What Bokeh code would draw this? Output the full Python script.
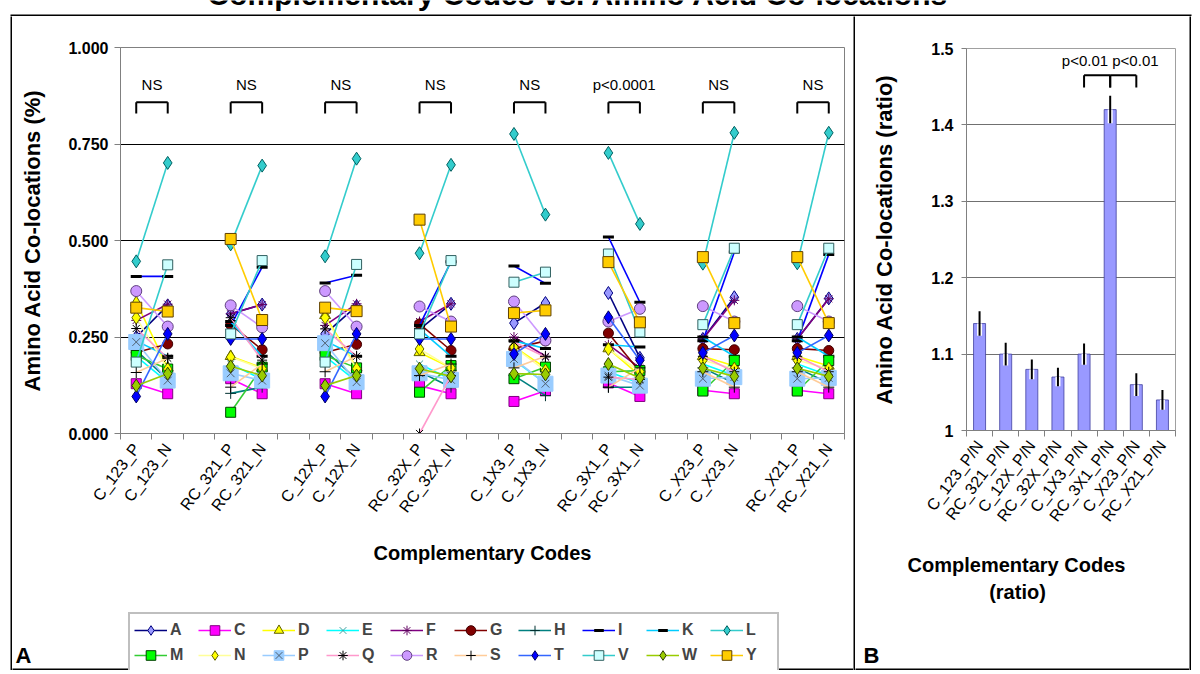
from bokeh.plotting import figure
from bokeh.models import (FixedTicker, NumeralTickFormatter, Legend, LegendItem,
                          Range1d, Spacer)
from bokeh.layouts import row, column
from bokeh.embed import file_html
from bokeh.resources import INLINE
from bokeh.core.properties import value

FONT = "Liberation Sans"

# ---------------- data ----------------
codes = ["C_123", "RC_321", "C_12X", "RC_32X", "C_1X3", "RC_3X1", "C_X23", "RC_X21"]
pair_tests = ["NS", "NS", "NS", "NS", "NS", "p<0.0001", "NS", "NS"]
amino_acids = ["A", "C", "D", "E", "F", "G", "H", "I", "K", "L",
               "M", "N", "P", "Q", "R", "S", "T", "V", "W", "Y"]

# order: C_123_P, C_123_N, RC_321_P, RC_321_N, C_12X_P, C_12X_N, RC_32X_P, RC_32X_N,
#        C_1X3_P, C_1X3_N, RC_3X1_P, RC_3X1_N, C_X23_P, C_X23_N, RC_X21_P, RC_X21_N
A = [0.250, 0.332, 0.310, 0.334, 0.258, 0.330, 0.270, 0.336, 0.286, 0.338, 0.364, 0.196, 0.245, 0.353, 0.245, 0.350]
C = [0.129, 0.103, 0.142, 0.103, 0.129, 0.103, 0.124, 0.103, 0.083, 0.111, 0.131, 0.096, 0.112, 0.103, 0.112, 0.103]
D = [0.340, 0.170, 0.200, 0.170, 0.306, 0.170, 0.210, 0.170, 0.225, 0.170, 0.220, 0.150, 0.200, 0.175, 0.200, 0.175]
E = [0.200, 0.133, 0.180, 0.140, 0.200, 0.135, 0.180, 0.140, 0.190, 0.130, 0.160, 0.130, 0.180, 0.150, 0.180, 0.150]
F = [0.293, 0.335, 0.310, 0.334, 0.280, 0.336, 0.290, 0.336, 0.250, 0.200, 0.230, 0.170, 0.245, 0.345, 0.245, 0.349]
G = [0.210, 0.232, 0.282, 0.217, 0.210, 0.231, 0.284, 0.215, 0.220, 0.240, 0.260, 0.160, 0.220, 0.217, 0.220, 0.215]
H = [0.215, 0.140, 0.104, 0.120, 0.215, 0.140, 0.160, 0.120, 0.150, 0.098, 0.120, 0.120, 0.170, 0.130, 0.170, 0.130]
I = [0.407, 0.407, 0.280, 0.431, 0.390, 0.410, 0.280, 0.445, 0.434, 0.389, 0.509, 0.340, 0.240, 0.470, 0.240, 0.464]
K = [0.240, 0.200, 0.290, 0.200, 0.240, 0.200, 0.270, 0.200, 0.240, 0.220, 0.230, 0.224, 0.250, 0.200, 0.250, 0.200]
L = [0.446, 0.701, 0.490, 0.694, 0.459, 0.712, 0.467, 0.696, 0.776, 0.567, 0.727, 0.543, 0.440, 0.779, 0.441, 0.779]
M = [0.202, 0.167, 0.055, 0.172, 0.202, 0.170, 0.107, 0.176, 0.142, 0.172, 0.160, 0.163, 0.110, 0.189, 0.110, 0.189]
N = [0.300, 0.167, 0.198, 0.168, 0.300, 0.168, 0.219, 0.170, 0.224, 0.163, 0.219, 0.160, 0.190, 0.168, 0.190, 0.168]
P = [0.237, 0.137, 0.156, 0.137, 0.234, 0.133, 0.156, 0.139, 0.193, 0.129, 0.150, 0.124, 0.142, 0.146, 0.142, 0.144]
Q = [0.272, 0.195, 0.300, 0.190, 0.271, 0.200, 0.000, 0.150, 0.237, 0.198, 0.146, 0.140, 0.200, 0.160, 0.200, 0.160]
R = [0.369, 0.277, 0.332, 0.275, 0.369, 0.277, 0.329, 0.290, 0.342, 0.241, 0.290, 0.323, 0.330, 0.290, 0.330, 0.290]
S = [0.158, 0.195, 0.120, 0.180, 0.160, 0.200, 0.150, 0.180, 0.170, 0.200, 0.120, 0.170, 0.160, 0.120, 0.160, 0.120]
T = [0.096, 0.258, 0.245, 0.245, 0.096, 0.258, 0.245, 0.245, 0.206, 0.258, 0.301, 0.190, 0.209, 0.254, 0.209, 0.254]
V = [0.185, 0.437, 0.258, 0.448, 0.185, 0.438, 0.258, 0.448, 0.392, 0.418, 0.465, 0.263, 0.282, 0.480, 0.282, 0.480]
W = [0.124, 0.155, 0.174, 0.150, 0.124, 0.150, 0.168, 0.148, 0.155, 0.153, 0.180, 0.144, 0.169, 0.148, 0.169, 0.148]
Y = [0.326, 0.316, 0.504, 0.294, 0.326, 0.317, 0.554, 0.277, 0.312, 0.319, 0.444, 0.288, 0.457, 0.286, 0.457, 0.286]

series = dict(A=A, C=C, D=D, E=E, F=F, G=G, H=H, I=I, K=K, L=L,
              M=M, N=N, P=P, Q=Q, R=R, S=S, T=T, V=V, W=W, Y=Y)

ratio_labels = [c + "_P/N" for c in codes]
ratio = [1.14, 1.10, 1.08, 1.07, 1.10, 1.42, 1.06, 1.04]
ratio_err = [0.016, 0.015, 0.013, 0.012, 0.014, 0.018, 0.015, 0.013]
ratio_test_pairs = [(4, 5), (5, 6)]
ratio_test_text = "p<0.01 p<0.01"

TITLE = "Complementary Codes vs. Amino Acid Co-locations"

# ---------------- styles ----------------
styles = {
    "A": ("#000080", "diamond", 13, "#9999FF", "#000080"),
    "C": ("#FF00FF", "square", 10, "#FF00FF", "#800080"),
    "D": ("#FFFF00", "triangle", 11, "#FFFF00", "#606000"),
    "E": ("#00FFFF", "x", 10, None, "#40A0A0"),
    "F": ("#800080", "asterisk", 10, None, "#600060"),
    "G": ("#800000", "circle", 10, "#800000", "#400000"),
    "H": ("#008080", "cross", 11, None, "#003030"),
    "I": ("#0000FF", "dash", 11, None, "#000000"),
    "K": ("#00CCFF", "dash", 11, None, "#000000"),
    "L": ("#33CCCC", "diamond", 13, "#33CCCC", "#006060"),
    "M": ("#33CC33", "square", 10, "#00FF00", "#004000"),
    "N": ("#FFFF99", "diamond", 13, "#FFFF00", "#606000"),
    "P": ("#99CCFF", "square", 15, "#99CCFF", "#99CCFF"),
    "Q": ("#FF99CC", "asterisk", 10, None, "#000000"),
    "R": ("#CC99FF", "circle", 11, "#CC99FF", "#604080"),
    "S": ("#FFCC99", "cross", 11, None, "#000000"),
    "T": ("#3366FF", "diamond", 13, "#0000FF", "#000060"),
    "V": ("#33CCCC", "square", 10, "#CCFFFF", "#306060"),
    "W": ("#99CC00", "diamond", 13, "#99CC00", "#304000"),
    "Y": ("#FFCC00", "square", 11, "#FFCC00", "#604000"),
}

# ---------------- geometry (page px; page has no margin) ----------------
LW = 2
LEFT_PAD = 10
TITLE_H = 16                # includes the 2px top frame line
WA_IN, WB_IN = 841, 334
H_IN = 654                  # includes the 2px bottom frame line
HA = 584
HA_BOT = H_IN - HA
HB = 524
HB_BOT = H_IN - HB
W_FRAME = LW + WA_IN + LW + WB_IN + LW


def unalign(f):
    try:
        f.frame_align = False
    except Exception:
        pass
    return f


def blank(w, h, color="white"):
    f = figure(width=w, height=h, x_range=Range1d(0, w), y_range=Range1d(0, h),
               x_axis_location=None, y_axis_location=None, toolbar_location=None,
               min_border=0, output_backend="svg")
    f.background_fill_color = color
    f.border_fill_color = color
    f.outline_line_color = None
    f.grid.visible = False
    return unalign(f)


def frame_line(f, x0, x1, y0, y1):
    r = f.quad(left=[x0], right=[x1], bottom=[y0], top=[y1], fill_color="black", line_color=None)
    r.level = "overlay"
    return r


def add_series(fig, xP, xN, **kw):
    items = []
    for aa in amino_acids:
        vals = series[aa]
        lc, mk, sz, fc, mlc = styles[aa]
        xs = [[xP[k], xN[k]] for k in range(len(codes))]
        ys = [[vals[2 * k], vals[2 * k + 1]] for k in range(len(codes))]
        lr = fig.multi_line(xs, ys, line_color=lc, line_width=1.6, **kw)
        fx = [x for pr in xs for x in pr]
        rends = [lr]
        if aa == "P":
            rends.append(fig.scatter(fx, vals, marker="square", size=sz, fill_color=fc,
                                     line_color=mlc, **kw))
            rends.append(fig.scatter(fx, vals, marker="x", size=11, line_color="#506070",
                                     line_width=1, **kw))
        else:
            lw = 3 if mk == "dash" else 1
            rends.append(fig.scatter(fx, vals, marker=mk, size=sz, fill_color=fc,
                                     line_color=mlc, line_width=lw, **kw))
        items.append(LegendItem(label=aa, renderers=rends))
    return items


# ---------------- panel A chart ----------------
nslots = 3 * len(codes) - 1
xP = [3 * k + 0.5 for k in range(len(codes))]
xN = [3 * k + 1.5 for k in range(len(codes))]

A_L, A_T = 108, 31
A_FW, A_FH = 724, 386
pA = figure(width=WA_IN, height=HA, x_range=Range1d(0, nslots), y_range=Range1d(0, 1),
            output_backend="svg", toolbar_location=None,
            min_border_left=A_L, min_border_right=WA_IN - A_L - A_FW,
            min_border_top=A_T, min_border_bottom=HA - A_T - A_FH)
unalign(pA)
pA.background_fill_color = "white"
pA.border_fill_color = "white"
pA.outline_line_color = "#808080"
pA.xgrid.visible = False
pA.ygrid.ticker = FixedTicker(ticks=[0.25, 0.5, 0.75])
pA.ygrid.grid_line_color = "black"

tick_pos, tick_lab = [], []
for k, c in enumerate(codes):
    tick_pos += [xP[k], xN[k]]
    tick_lab += [c + "_P", c + "_N"]

xa = pA.xaxis[0]
xa.ticker = FixedTicker(ticks=tick_pos, minor_ticks=list(range(nslots + 1)))
xa.major_label_overrides = {t: l for t, l in zip(tick_pos, tick_lab)}
xa.major_label_orientation = 0.93
xa.major_label_text_font = FONT
xa.major_label_text_font_size = "16px"
xa.major_label_text_color = "black"
xa.major_label_standoff = 6
xa.major_tick_out = 0
xa.major_tick_in = 0
xa.minor_tick_out = 6
xa.minor_tick_in = 0
xa.minor_tick_line_color = "#808080"
xa.axis_line_color = "#808080"
xa.axis_label = "Complementary Codes"
xa.axis_label_text_font = FONT
xa.axis_label_text_font_style = "bold"
xa.axis_label_text_font_size = "20px"
xa.axis_label_text_color = "black"
xa.axis_label_standoff = 18

ya = pA.yaxis[0]
ya.ticker = FixedTicker(ticks=[0, 0.25, 0.5, 0.75, 1.0])
ya.formatter = NumeralTickFormatter(format="0.000")
ya.major_label_text_font = FONT
ya.major_label_text_font_style = "bold"
ya.major_label_text_font_size = "16px"
ya.major_label_text_color = "black"
ya.major_label_standoff = 6
ya.major_tick_out = 6
ya.major_tick_in = 0
ya.minor_tick_out = 0
ya.minor_tick_in = 0
ya.major_tick_line_color = "#808080"
ya.axis_line_color = "#808080"
ya.axis_label = "Amino Acid Co-locations (%)"
ya.axis_label_text_font = FONT
ya.axis_label_text_font_style = "bold"
ya.axis_label_text_font_size = "22px"
ya.axis_label_text_color = "black"
ya.axis_label_standoff = 20

add_series(pA, xP, xN)

br_top, br_bot, br_text = 0.858, 0.829, 0.905
nc = len(codes)
pA.segment(x0=xP, y0=[br_top] * nc, x1=xN, y1=[br_top] * nc, line_color="black", line_width=2)
pA.segment(x0=xP, y0=[br_top] * nc, x1=xP, y1=[br_bot] * nc, line_color="black", line_width=2)
pA.segment(x0=xN, y0=[br_top] * nc, x1=xN, y1=[br_bot] * nc, line_color="black", line_width=2)
pA.text(x=[(a + b) / 2 for a, b in zip(xP, xN)], y=[br_text] * nc, text=pair_tests,
        text_font=value(FONT), text_font_size="15px", text_align="center", text_baseline="middle",
        text_color="black")

# ---------------- panel A legend strip ----------------
pAl = blank(WA_IN, HA_BOT)
pAl.extra_x_ranges = {"off": Range1d(100, 101)}
pAl.extra_y_ranges = {"off": Range1d(100, 101)}
leg_items = add_series(pAl, xP, xN, x_range_name="off", y_range_name="off")
legend = Legend(items=leg_items, orientation="horizontal", nrows=2, location=(116, -3),
                label_text_font=FONT, label_text_font_style="bold", label_text_font_size="16px",
                glyph_width=33, glyph_height=24, label_height=24, label_width=27,
                label_standoff=3, spacing=1, padding=4,
                border_line_color="#808080", border_line_width=2,
                background_fill_color="white", background_fill_alpha=1, margin=0)
pAl.add_layout(legend, "center")
pAl.text(x=[3], y=[15], text=["A"], text_font=value(FONT), text_font_style="bold",
         text_font_size="22px", text_baseline="middle", text_color="black")
frame_line(pAl, 0, WA_IN, 0, LW)

# ---------------- panel B chart ----------------
nb = len(ratio)
B_L, B_T = 111, 32
B_FW, B_FH = 209, 382
pB = figure(width=WB_IN, height=HB, x_range=Range1d(0, nb), y_range=Range1d(1, 1.5),
            output_backend="svg", toolbar_location=None,
            min_border_left=B_L, min_border_right=WB_IN - B_L - B_FW,
            min_border_top=B_T, min_border_bottom=HB - B_T - B_FH)
unalign(pB)
pB.background_fill_color = "white"
pB.border_fill_color = "white"
pB.outline_line_color = "#A0A0A0"
pB.xgrid.visible = False
pB.ygrid.ticker = FixedTicker(ticks=[1.1, 1.2, 1.3, 1.4])
pB.ygrid.grid_line_color = "#707070"

xb = [i + 0.5 for i in range(nb)]
lo = [r - e for r, e in zip(ratio, ratio_err)]
hi = [r + e for r, e in zip(ratio, ratio_err)]
pB.vbar(x=xb, top=ratio, bottom=1, width=0.46, fill_color="#9999FF", line_color="#4040A0", line_width=0.8)
pB.segment(x0=xb, y0=lo, x1=xb, y1=ratio, line_color="white", line_width=5)
pB.segment(x0=xb, y0=lo, x1=xb, y1=hi, line_color="black", line_width=2)

bt, bb = 1.465, 1.449
for a, b in ratio_test_pairs:
    pB.segment(x0=[xb[a], xb[a], xb[b]], y0=[bt, bt, bt], x1=[xb[b], xb[a], xb[b]], y1=[bt, bb, bb],
               line_color="black", line_width=2)
pB.text(x=[xb[5]], y=[1.484], text=[ratio_test_text], text_font=value(FONT), text_font_size="15px",
        text_align="center", text_baseline="middle", text_color="black")

xba = pB.xaxis[0]
xba.ticker = FixedTicker(ticks=xb, minor_ticks=list(range(nb + 1)))
xba.major_label_overrides = {t: l for t, l in zip(xb, ratio_labels)}
xba.major_label_orientation = 0.93
xba.major_label_text_font = FONT
xba.major_label_text_font_size = "16px"
xba.major_label_text_color = "black"
xba.major_label_standoff = 6
xba.major_tick_out = 0
xba.major_tick_in = 0
xba.minor_tick_out = 6
xba.minor_tick_in = 0
xba.minor_tick_line_color = "#808080"
xba.axis_line_color = "#808080"

yba = pB.yaxis[0]
yba.ticker = FixedTicker(ticks=[1.0, 1.1, 1.2, 1.3, 1.4, 1.5])
yba.major_label_overrides = {1.0: "1", 1.1: "1.1", 1.2: "1.2", 1.3: "1.3", 1.4: "1.4", 1.5: "1.5"}
yba.major_label_text_font = FONT
yba.major_label_text_font_style = "bold"
yba.major_label_text_font_size = "16px"
yba.major_label_text_color = "black"
yba.major_label_standoff = 8
yba.major_tick_out = 5
yba.major_tick_in = 0
yba.minor_tick_out = 0
yba.minor_tick_in = 0
yba.major_tick_line_color = "#808080"
yba.axis_line_color = "#808080"
yba.axis_label = "Amino Acid Co-locations (ratio)"
yba.axis_label_text_font = FONT
yba.axis_label_text_font_style = "bold"
yba.axis_label_text_font_size = "22px"
yba.axis_label_text_color = "black"
yba.axis_label_standoff = 31

# ---------------- panel B bottom strip ----------------
pBl = blank(WB_IN, HB_BOT)
pBl.text(x=[161, 162], y=[HB_BOT - 24, HB_BOT - 51], text=["Complementary Codes", "(ratio)"],
         text_font=value(FONT), text_font_style="bold", text_font_size="20px",
         text_align="center", text_baseline="middle", text_color="black")
pBl.text(x=[8], y=[15], text=["B"], text_font=value(FONT), text_font_style="bold",
         text_font_size="22px", text_baseline="middle", text_color="black")
frame_line(pBl, 0, WB_IN, 0, LW)

# ---------------- title strip (with top frame line) ----------------
title_strip = blank(1200, TITLE_H)
title_strip.text(x=[578], y=[6], text=[TITLE], text_font=value(FONT),
                 text_font_style="bold", text_font_size="30px", text_align="center",
                 text_baseline="bottom", text_color="black")
frame_line(title_strip, LEFT_PAD, LEFT_PAD + W_FRAME, 0, LW)

colA = column(pA, pAl, spacing=0)
colB = column(pB, pBl, spacing=0)
body = row(Spacer(width=LEFT_PAD, height=H_IN), blank(LW, H_IN, "black"), colA,
           blank(LW, H_IN, "black"), colB, blank(LW, H_IN, "black"), spacing=0)
layout = column(title_strip, body, spacing=0)

open("out.html", "w").write(file_html(layout, INLINE))
